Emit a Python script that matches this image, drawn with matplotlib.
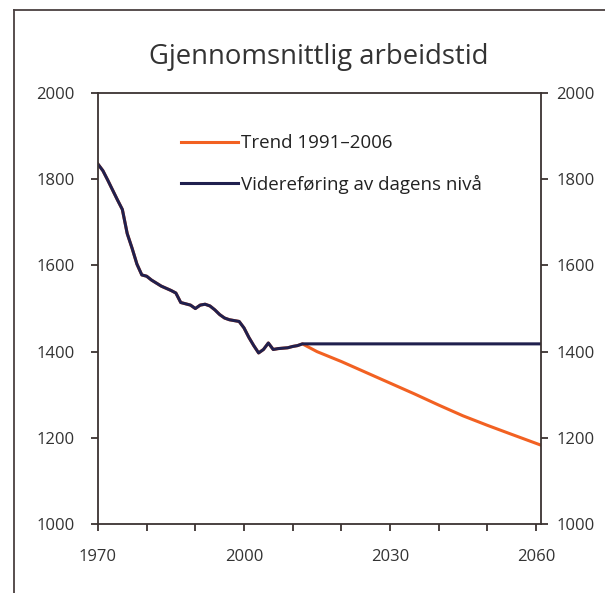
"""Gjennomsnittlig arbeidstid: historikk og to framskrivinger."""

import matplotlib

matplotlib.use("Agg")
import matplotlib.pyplot as plt
from matplotlib.lines import Line2D
from matplotlib.ticker import FixedLocator, MultipleLocator

plt.rcParams["font.family"] = ["Open Sans", "DejaVu Sans"]

HIST_YEARS = [
    1970, 1971, 1972, 1973, 1974, 1975, 1976, 1977, 1978, 1979,
    1980, 1981, 1982, 1983, 1984, 1985, 1986, 1987, 1988, 1989,
    1990, 1991, 1992, 1993, 1994, 1995, 1996, 1997, 1998, 1999,
    2000, 2001, 2002, 2003, 2004, 2005, 2006, 2007, 2008, 2009,
    2010, 2011, 2012,
]
HIST_HOURS = [
    1835, 1820, 1798, 1775, 1752, 1730, 1674, 1640, 1603, 1578,
    1575, 1566, 1559, 1552, 1547, 1542, 1536, 1514, 1511, 1508,
    1500, 1508, 1510, 1506, 1497, 1486, 1478, 1474, 1472, 1470,
    1455, 1433, 1414, 1397, 1405, 1420, 1405, 1407, 1408, 1409,
    1412, 1414, 1418,
]
TREND_YEARS = [2013, 2015, 2020, 2025, 2030, 2035, 2040, 2045, 2050, 2055, 2061]
TREND_HOURS = [1412, 1400, 1377, 1352, 1327, 1302, 1276, 1251, 1229, 1208, 1183]
LEVEL_YEARS = [2013, 2061]
LEVEL_HOURS = [1418, 1418]
Y_TICKS = [1000, 1200, 1400, 1600, 1800, 2000]

ORANGE = "#f26122"
NAVY = "#20204e"
INK = "#3b3331"

fig = plt.figure(figsize=(6.05, 5.93), dpi=100)
ax = fig.add_axes([0.162, 0.1164, 0.732, 0.7266])

ax.plot(HIST_YEARS + TREND_YEARS, HIST_HOURS + TREND_HOURS, color=ORANGE, lw=2.2,
        label="Trend 1991\u20132006", solid_joinstyle="round")
ax.plot(HIST_YEARS + LEVEL_YEARS, HIST_HOURS + LEVEL_HOURS, color=NAVY, lw=2.2,
        label="Videreføring av dagens nivå", solid_joinstyle="round")

ax.set_xlim(1970, 2061)
ax.set_ylim(1000, 2000)
ax.xaxis.set_major_locator(FixedLocator([1970, 2000, 2030, 2060]))
ax.xaxis.set_minor_locator(MultipleLocator(10))
ax.set_yticks(Y_TICKS)

for side in ax.spines.values():
    side.set_color(INK)
    side.set_linewidth(1.3)

ax.tick_params(axis="both", which="both", direction="out", length=5, width=1.3,
               color=INK, labelcolor="#333333", labelsize=12)
ax.tick_params(axis="x", which="major", pad=13)
ax.tick_params(axis="y", which="major", pad=12, right=False, labelright=False)

sec = ax.secondary_yaxis("right")
sec.set_yticks(Y_TICKS)
sec.spines["right"].set_visible(False)
sec.tick_params(direction="out", length=5, width=1.3, color=INK,
                labelcolor="#333333", labelsize=12, pad=6)

ax.legend(loc="upper left", bbox_to_anchor=(0.15, 0.944), frameon=False,
          fontsize=13.5, handlelength=3.0, handletextpad=0.2, labelspacing=1.2,
          labelcolor="#222222")

fig.text(0.527, 0.904, "Gjennomsnittlig arbeidstid", ha="center", va="center",
         fontsize=19.8, color="#333333")

fig.add_artist(Line2D([0.0231, 0.0231], [0.0, 0.983], color="#4a4040", lw=1.3))
fig.add_artist(Line2D([0.0231, 1.0], [0.983, 0.983], color="#4a4040", lw=1.3))

fig.savefig("out.png", dpi=100)
